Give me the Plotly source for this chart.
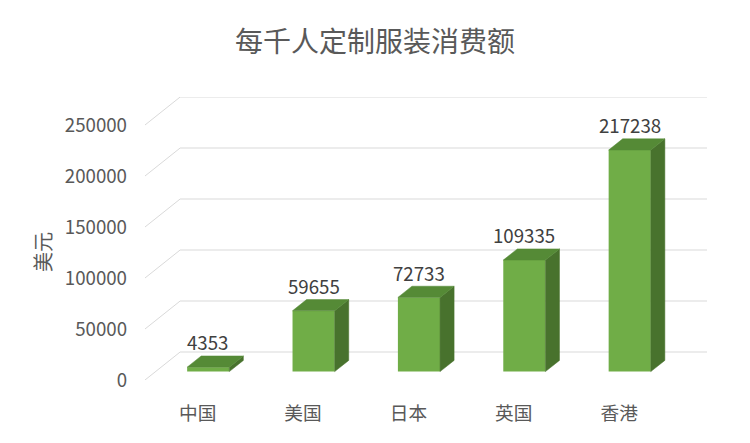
import plotly.graph_objects as go

categories = ["中国", "美国", "日本", "英国", "香港"]
values = [4353, 59655, 72733, 109335, 217238]
tick_vals = [0, 50000, 100000, 150000, 200000, 250000]

# fake 3D: depth offset of the back wall in axis units
DX = 1 / 3
DY = 27451
F0, F1 = 0.3, 0.7   # bar front / back as fraction of depth
HALF = 0.2          # half bar width

FRONT = "#70AD47"
TOP = "#558A36"
SIDE = "#48722D"
TXT = "#595959"
FONT = "Noto Sans CJK SC"

fig = go.Figure()

# front faces
fig.add_trace(go.Bar(
    x=[i + F0 * DX for i in range(len(values))], y=values, base=F0 * DY,
    width=2 * HALF, marker=dict(color=FRONT, line=dict(width=0)),
    hoverinfo="skip", showlegend=False))

ddx = (F1 - F0) * DX
ddy = (F1 - F0) * DY
for i, v in enumerate(values):
    xl = i + F0 * DX - HALF
    xr = i + F0 * DX + HALF
    b = F0 * DY
    # side face
    fig.add_trace(go.Scatter(
        x=[xr, xr + ddx, xr + ddx, xr, xr], y=[b, b + ddy, b + v + ddy, b + v, b],
        fill="toself", fillcolor=SIDE, mode="lines", line=dict(color=SIDE, width=0.5),
        hoverinfo="skip", showlegend=False))
    # top face
    fig.add_trace(go.Scatter(
        x=[xl, xr, xr + ddx, xl + ddx, xl], y=[b + v, b + v, b + v + ddy, b + v + ddy, b + v],
        fill="toself", fillcolor=TOP, mode="lines", line=dict(color=TOP, width=0.5),
        hoverinfo="skip", showlegend=False))
    # data label
    fig.add_annotation(x=i + F0 * DX, y=b + v + ddy, text=str(v), showarrow=False,
                       yanchor="middle", yshift=14, font=dict(size=18.7, color="#404040", family=FONT))

# slanted gridlines (floor/wall)
for t in tick_vals:
    fig.add_shape(type="path", xref="x", yref="y", layer="below",
                  path=f"M -0.5,{t} L {-0.5 + DX},{t + DY} L {4.5 + DX},{t + DY}",
                  line=dict(color="#D9D9D9", width=1))

# y axis title
fig.add_annotation(text="美元", xref="paper", yref="paper", x=0, y=0.452,
                   xanchor="center", yanchor="middle", xshift=-103, textangle=-90,
                   showarrow=False, font=dict(size=20, color=TXT, family=FONT))

# page body has an 8px margin, so offsets are compensated here
fig.update_layout(
    width=750, height=443,
    margin=dict(l=137, r=51, t=89, b=71),
    paper_bgcolor="white", plot_bgcolor="white",
    font=dict(family=FONT, color=TXT),
    title=dict(text="每千人定制服装消费额", x=367 / 750, xref="container", xanchor="center",
               y=1 - 34 / 443, yref="container", yanchor="middle",
               font=dict(size=28, color=TXT, family=FONT)),
)
fig.update_xaxes(range=[-0.5, 4.5 + DX], tickvals=list(range(len(categories))), ticktext=categories,
                 showgrid=False, zeroline=False, showline=False, ticks="",
                 tickfont=dict(size=18.7, color=TXT), ticklabelstandoff=20)
fig.update_yaxes(range=[0, 250000 + DY], tickvals=tick_vals, tickformat="d",
                 showgrid=False, zeroline=False, showline=False, ticks="",
                 tickfont=dict(size=18.7, color=TXT), ticklabelstandoff=17)

fig.write_html("out.html")
